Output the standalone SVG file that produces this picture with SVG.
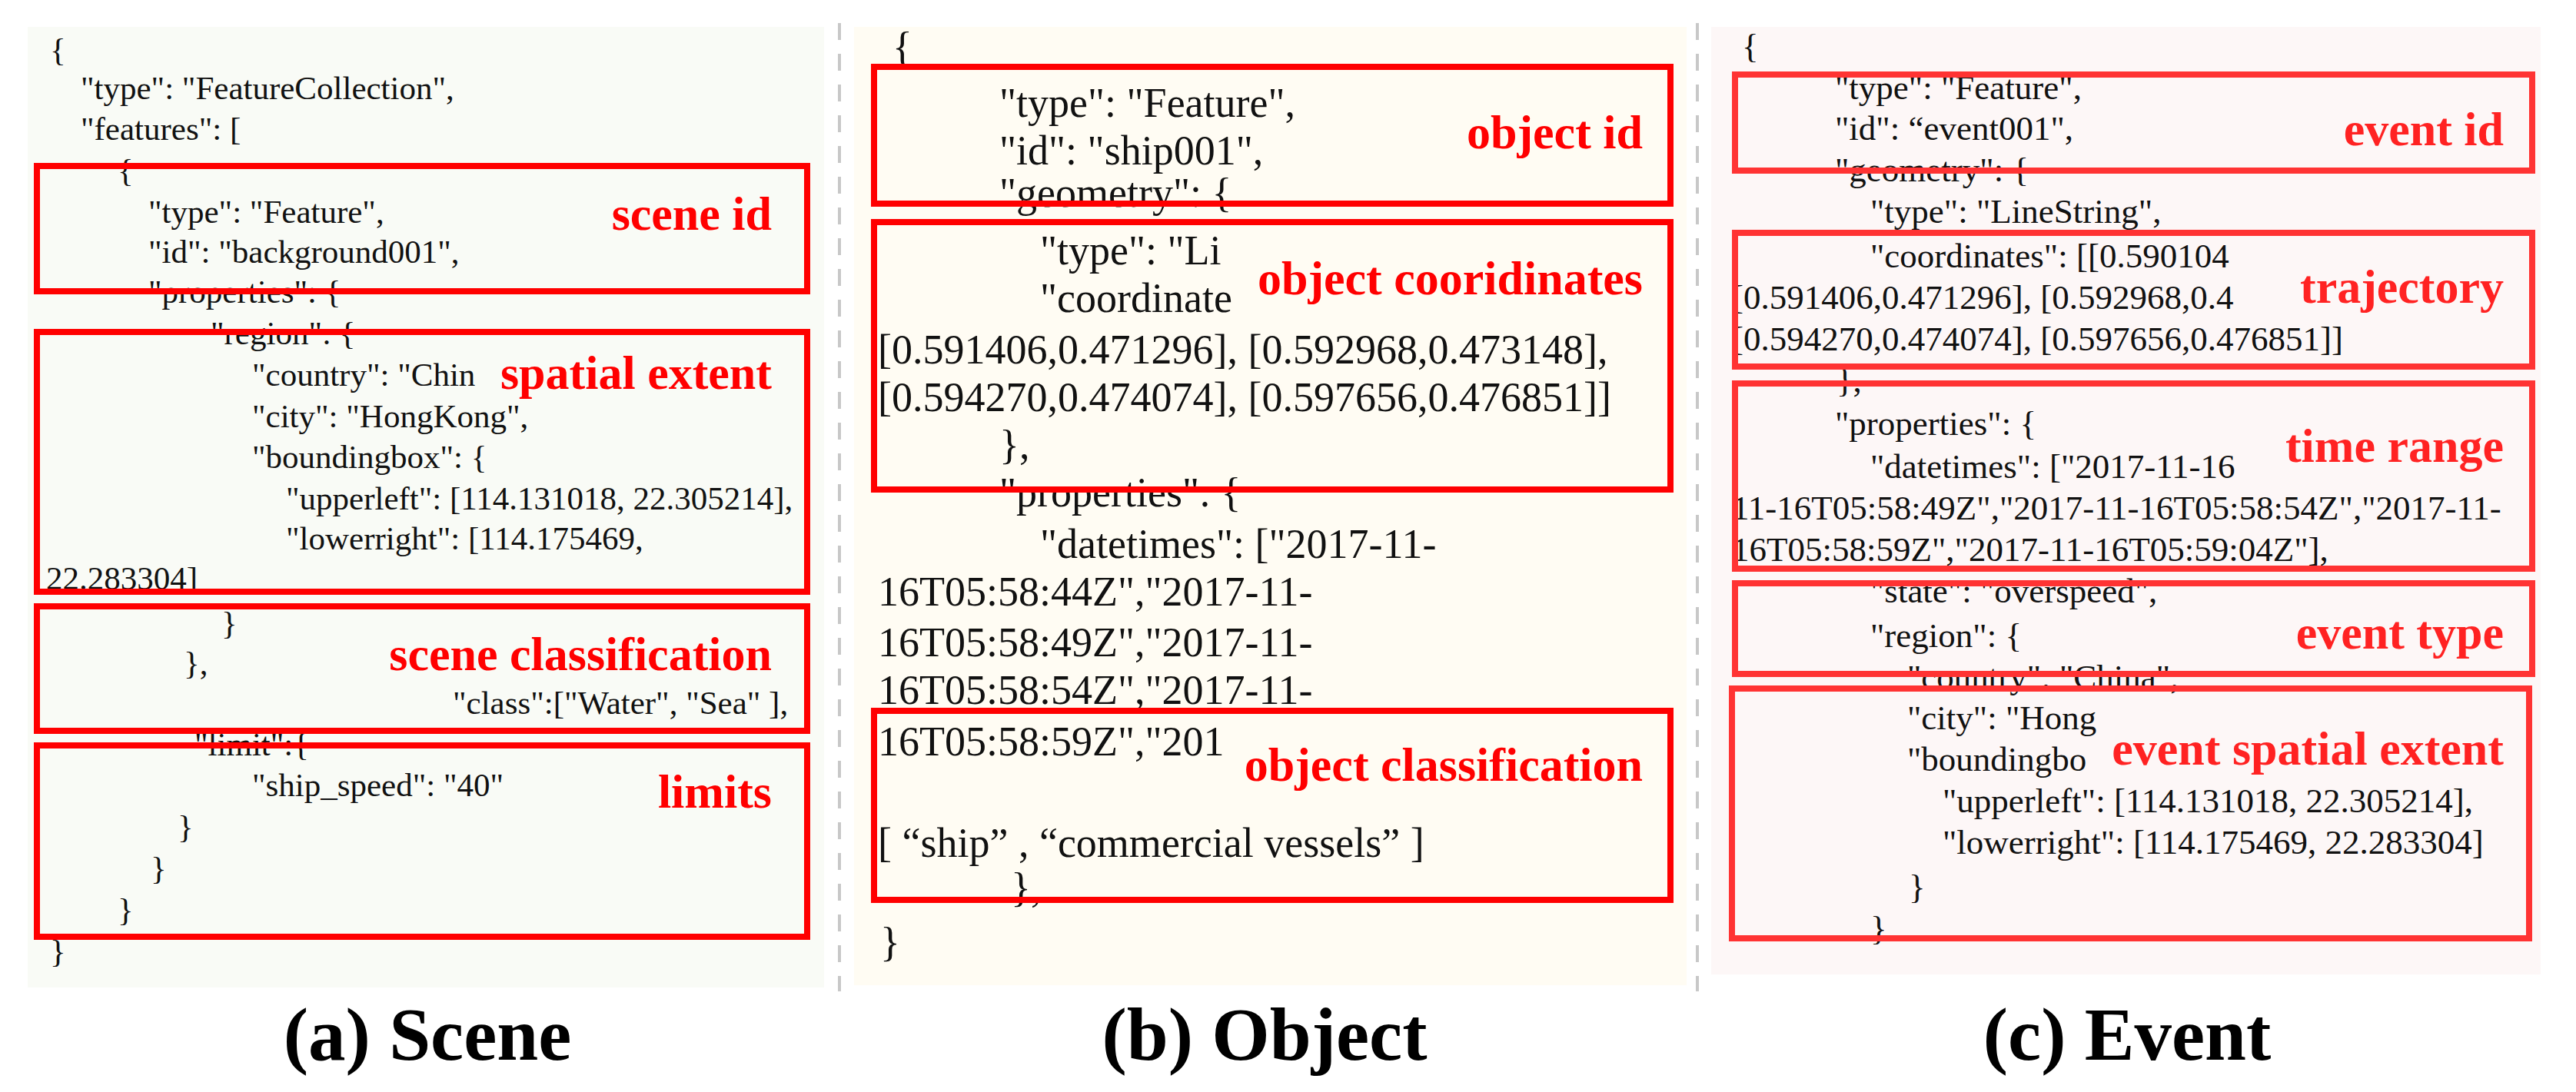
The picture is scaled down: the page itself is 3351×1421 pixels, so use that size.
<svg xmlns="http://www.w3.org/2000/svg" width="3351" height="1421" viewBox="0 0 3351 1421">
<style>
.t{font-family:"Liberation Serif",serif;fill:#111}
.a{font-size:43px}.b{font-size:54px}.c{font-size:45px}
.l{font-family:"Liberation Serif",serif;font-weight:bold;fill:#f00;font-size:62px;text-anchor:end}
.lc{fill:#f22}
.box{fill:none;stroke:#f00;stroke-width:8}
.boxc{fill:none;stroke:#f33;stroke-width:8}
.cap{font-family:"Liberation Serif",serif;font-weight:bold;font-size:97px;fill:#000;text-anchor:middle}
.sep{stroke:#c8c8c8;stroke-width:4;stroke-dasharray:22 18}
</style>
<rect width="3351" height="1421" fill="#fff"/>
<g id="separators">
<line class="sep" x1="1092" y1="30" x2="1092" y2="1290"/>
<line class="sep" x1="2208" y1="30" x2="2208" y2="1290"/>
</g>
<g id="panel-a">
<rect x="36" y="35" width="1036" height="1250" fill="#f9fbf6"/>
<g class="t a">
<text x="65" y="79">{</text>
<text x="105" y="129">"type":  "FeatureCollection",</text>
<text x="105" y="182">"features":  [</text>
<text x="153" y="236">{</text>
<text x="193" y="290">"type":  "Feature",</text>
<text x="193" y="342">"id":  "background001",</text>
<text x="193" y="394">"properties":  {</text>
<text x="274" y="448">"region":  {</text>
<text x="328" y="502">"country":  "Chin</text>
<text x="328" y="556">"city":  "HongKong",</text>
<text x="328" y="609">"boundingbox":  {</text>
<text x="372" y="663">"upperleft":  [114.131018, 22.305214],</text>
<text x="372" y="715">"lowerright":  [114.175469,</text>
<text x="60" y="767">22.283304]</text>
<text x="288" y="825">}</text>
<text x="239" y="877">},</text>
<text x="589" y="929">"class":["Water",  "Sea"  ],</text>
<text x="253" y="983">"limit":{</text>
<text x="328" y="1036">"ship_speed":  "40"</text>
<text x="231" y="1090">}</text>
<text x="196" y="1144">}</text>
<text x="153" y="1198">}</text>
<text x="65" y="1252">}</text>
</g>
<rect class="box" x="48" y="216" width="1002" height="163"/>
<rect class="box" x="48" y="432" width="1002" height="338"/>
<rect class="box" x="48" y="789" width="1002" height="162"/>
<rect class="box" x="48" y="970" width="1002" height="249"/>
<text class="l" x="1004" y="299">scene id</text>
<text class="l" x="1004" y="506">spatial extent</text>
<text class="l" x="1004" y="872">scene classification</text>
<text class="l" x="1004" y="1051">limits</text>
<text class="cap" x="556" y="1379">(a) Scene</text>
</g>
<g id="panel-b">
<rect x="1111" y="35" width="1083" height="1247" fill="#fffcf3"/>
<g class="t b">
<text x="1161" y="79">{</text>
<text x="1300" y="152">"type":  "Feature",</text>
<text x="1300" y="214">"id":  "ship001",</text>
<text x="1300" y="269">"geometry":  {</text>
<text x="1353" y="344">"type":  "Li</text>
<text x="1353" y="406">"coordinate</text>
<text x="1142" y="473">[0.591406,0.471296], [0.592968,0.473148],</text>
<text x="1142" y="535">[0.594270,0.474074], [0.597656,0.476851]]</text>
<text x="1300" y="597">},</text>
<text x="1300" y="659">"properties":  {</text>
<text x="1353" y="726">"datetimes":  ["2017-11-</text>
<text x="1142" y="788">16T05:58:44Z","2017-11-</text>
<text x="1142" y="854">16T05:58:49Z","2017-11-</text>
<text x="1142" y="916">16T05:58:54Z","2017-11-</text>
<text x="1142" y="983">16T05:58:59Z","201</text>
<text x="1142" y="1115">[  “ship”   ,  “commercial   vessels”  ]</text>
<text x="1315" y="1173">},</text>
<text x="1145" y="1244">}</text>
</g>
<rect class="box" x="1137" y="87" width="1036" height="178"/>
<rect class="box" x="1137" y="289" width="1036" height="348"/>
<rect class="box" x="1137" y="925" width="1036" height="246"/>
<text class="l" x="2137" y="193">object id</text>
<text class="l" x="2137" y="383">object cooridinates</text>
<text class="l" x="2137" y="1016">object classification</text>
<text class="cap" x="1645" y="1379">(b) Object</text>
</g>
<g id="panel-c">
<rect x="2226" y="35" width="1079" height="1233" fill="#fdf7f7"/>
<g class="t c">
<text x="2266" y="75">{</text>
<text x="2387" y="129">"type":  "Feature",</text>
<text x="2387" y="182">"id":  “event001",</text>
<text x="2387" y="236">"geometry":  {</text>
<text x="2433" y="290">"type":  "LineString",</text>
<text x="2433" y="348">"coordinates":  [[0.590104</text>
<text x="2253" y="402">[0.591406,0.471296], [0.592968,0.4</text>
<text x="2253" y="456">[0.594270,0.474074], [0.597656,0.476851]]</text>
<text x="2389" y="510">},</text>
<text x="2387" y="566">"properties":  {</text>
<text x="2433" y="622">"datetimes":  ["2017-11-16</text>
<text x="2253" y="676">11-16T05:58:49Z","2017-11-16T05:58:54Z","2017-11-</text>
<text x="2253" y="730">16T05:58:59Z","2017-11-16T05:59:04Z"],</text>
<text x="2433" y="784">"state":  "overspeed",</text>
<text x="2433" y="842">"region":  {</text>
<text x="2481" y="896">"country":  "China",</text>
<text x="2481" y="949">"city":  "Hong</text>
<text x="2481" y="1003">"boundingbo</text>
<text x="2527" y="1057">"upperleft":  [114.131018, 22.305214],</text>
<text x="2527" y="1111">"lowerright":  [114.175469, 22.283304]</text>
<text x="2483" y="1169">}</text>
<text x="2433" y="1223">}</text>
</g>
<rect class="boxc" x="2257" y="97" width="1037" height="125"/>
<rect class="boxc" x="2257" y="303" width="1037" height="174"/>
<rect class="boxc" x="2257" y="499" width="1037" height="241"/>
<rect class="boxc" x="2257" y="759" width="1037" height="118"/>
<rect class="boxc" x="2253" y="896" width="1037" height="325"/>
<text class="l lc" x="3257" y="189">event id</text>
<text class="l lc" x="3257" y="394">trajectory</text>
<text class="l lc" x="3257" y="601">time range</text>
<text class="l lc" x="3257" y="844">event type</text>
<text class="l lc" x="3257" y="995">event spatial extent</text>
<text class="cap" x="2767" y="1379">(c) Event</text>
</g>
</svg>
